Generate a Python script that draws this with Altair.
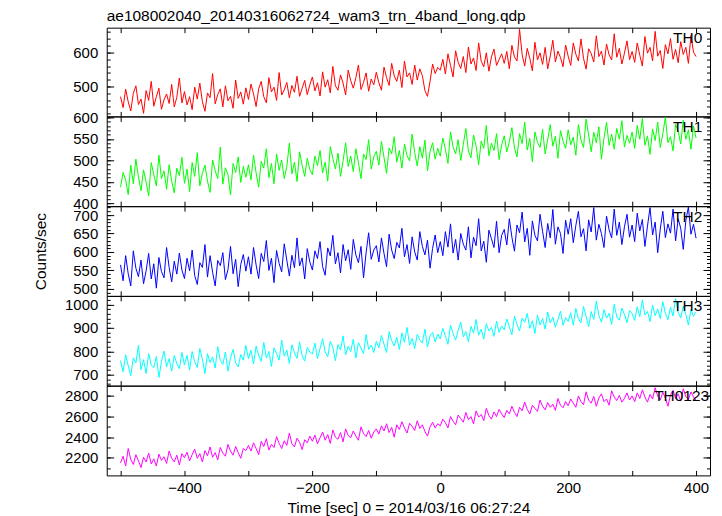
import altair as alt
import pandas as pd

TITLE = "ae108002040_20140316062724_wam3_trn_4band_long.qdp"
X_TITLE = "Time [sec] 0 = 2014/03/16 06:27:24"
Y_TITLE = "Counts/sec"
TIME = list(range(-500, 401, 4))
X_DOMAIN = [-521.6, 421.8]
X_TICKS = list(range(-500, 401, 100))

TH0 = [470, 438, 492, 455, 428, 480, 502, 447, 463, 421, 488, 459, 515, 442, 470, 495, 433, 461, 478, 450, 506, 440, 468, 525, 452,
       485, 446, 470, 432, 498, 463, 510, 455, 427, 481, 467, 538, 449, 476, 493, 440, 502, 458, 471, 436, 519, 465, 484, 448, 496,
       462, 507, 478, 441, 493, 515, 470, 452, 526, 484, 498, 459, 541, 475, 490, 512, 467, 503, 483, 530, 471, 495, 518, 476, 505,
       528, 487, 511, 472, 543, 498, 520, 481, 559, 502, 489, 534, 510, 475, 548, 517, 495, 526, 563, 491, 512, 540, 486, 522, 505,
       542, 511, 489, 557, 526, 503, 568, 531, 515, 548, 497, 575, 528, 540, 506, 563, 519, 552, 532, 488, 471, 515, 566, 538, 556,
       548, 580, 537, 596, 562, 528, 605, 571, 553, 588, 541, 616, 566, 584, 547, 628, 574, 558, 599, 545, 587, 610, 562, 579, 596,
       568, 603, 552, 621, 587, 575, 668, 594, 560, 612, 583, 546, 630, 578, 599, 565, 615, 552, 590, 636, 572, 604, 585, 558, 622,
       589, 562, 628, 595, 575, 640, 583, 551, 611, 597, 572, 649, 588, 604, 563, 625, 593, 578, 655, 586, 612, 566, 598, 634, 579,
       603, 571, 628, 592, 560, 647, 598, 615, 575, 662, 589, 606, 553, 623, 596, 641, 580, 609, 570, 632, 594, 615, 568, 650, 601,
       588]
TH1 = [438, 472, 455, 421, 489, 446, 503, 462, 430, 478, 450, 418, 495, 467, 441, 512, 458, 476, 433, 490, 452, 425, 482, 465, 507,
       447, 480, 428, 495, 463, 518, 441, 470, 489, 452, 426, 501, 476, 458, 531, 445, 483, 467, 420, 493, 472, 508, 449, 486, 461,
       490, 455, 512, 471, 438, 498, 482, 527, 460, 493, 446, 515, 477, 501, 458, 485, 540, 469, 496, 451, 520, 488, 463, 505, 479,
       467, 510, 488, 523, 471, 496, 452, 532, 505, 480, 517, 463, 499, 541, 486, 510, 474, 527, 495, 458, 515, 502, 548, 480, 508,
       521, 489, 544, 507, 470, 529, 515, 555, 496, 523, 482, 538, 511, 499, 561, 518, 487, 532, 505, 547, 476, 520, 541, 503, 528,
       510, 552, 526, 493, 566, 531, 515, 548, 500, 537, 574, 522, 506, 559, 534, 490, 545, 528, 581, 511, 540, 523, 562, 502, 536,
       557, 520, 543, 576, 529, 508, 562, 539, 589, 524, 551, 497, 566, 542, 530, 572, 515, 548, 583, 533, 556, 505, 569, 545, 528,
       571, 536, 554, 512, 583, 547, 530, 596, 559, 520, 565, 541, 578, 503, 552, 588, 535, 561, 526, 574, 549, 592, 531, 558, 540,
       566, 528, 581, 549, 597, 535, 557, 514, 573, 546, 589, 530, 562, 600, 541, 555, 522, 584, 568, 538, 593, 549, 571, 526, 580,
       552]
TH2 = [565, 522, 590, 541, 508, 603, 556, 533, 578, 514, 549, 596, 527, 568, 502, 585, 547, 530, 612, 558, 519, 575, 540, 597, 551,
       528, 583, 549, 605, 536, 512, 571, 558, 620, 532, 590, 545, 508, 577, 563, 598, 525, 552, 615, 541, 580, 506, 566, 593, 548,
       587, 540, 612, 565, 528, 596, 574, 631, 550, 583, 517, 604, 569, 546, 622, 578, 535, 591, 557, 638, 562, 584, 527, 609, 573,
       551, 603, 582, 628, 560, 537, 611, 589, 645, 568, 598, 543, 620, 576, 606, 553, 634, 592, 571, 615, 530, 598, 652, 580, 605,
       617, 573, 638, 596, 560, 648, 605, 582, 626, 611, 664, 587, 620, 569, 641, 600, 578, 655, 615, 592, 632, 556, 610, 646, 598,
       628, 590, 655, 613, 676, 597, 634, 578, 650, 621, 605, 668, 584, 640, 617, 690, 603, 629, 572, 659, 636, 612, 683, 598, 645,
       661, 619, 690, 640, 602, 673, 652, 708, 627, 664, 591, 684, 645, 630, 702, 656, 612, 677, 638, 715, 621, 668, 650, 596, 686,
       648, 690, 625, 672, 710, 641, 663, 603, 687, 654, 720, 632, 675, 650, 612, 697, 660, 638, 716, 645, 681, 620, 668, 702, 640,
       673, 628, 705, 657, 688, 615, 670, 720, 646, 681, 598, 662, 710, 639, 676, 651, 716, 630, 690, 664, 607, 685, 722, 648, 675,
       637]
TH3 = [760, 712, 785, 738, 695, 772, 750, 826, 721, 764, 705, 790, 742, 730, 778, 688, 756, 801, 733, 769, 715, 782, 748, 726, 795,
       741, 783, 720, 799, 755, 731, 812, 768, 705, 790, 752, 776, 728, 820, 761, 744, 797, 715, 772, 808, 750, 733, 786, 762, 825,
       768, 805, 746, 822, 784, 757, 838, 771, 799, 735, 815, 790, 762, 848, 779, 806, 748, 828, 793, 770, 840, 781, 758, 816, 797,
       788, 835, 769, 812, 854, 797, 776, 843, 818, 760, 829, 806, 866, 785, 821, 799, 852, 771, 837, 814, 790, 872, 808, 827, 795,
       842, 815, 868, 830, 795, 884, 846, 823, 860, 808, 879, 838, 902, 826, 855, 812, 873, 849, 835, 895, 818, 866, 881, 840, 874,
       853, 898, 865, 830, 912, 876, 848, 890, 925, 862, 884, 841, 907, 878, 936, 869, 895, 852, 918, 887, 903, 864, 929, 881, 908,
       892, 938, 905, 871, 950, 915, 887, 942, 924, 962, 898, 931, 876, 955, 913, 940, 895, 968, 921, 946, 903, 935, 972, 911, 944,
       928, 965, 912, 983, 940, 921, 992, 948, 905, 970, 936, 1015, 953, 925, 978, 942, 962, 915, 1001, 947, 933, 985, 958, 922, 975,
       961, 932, 990, 948, 1020, 955, 970, 927, 998, 952, 981, 940, 1012, 962, 935, 988, 951, 1025, 966, 943, 993, 958, 912, 979, 950,
       968]
TH0123 = [2150, 2215, 2120, 2290, 2185, 2135, 2230, 2170, 2105, 2205, 2160, 2245, 2140, 2190, 2120, 2235, 2175, 2210, 2145, 2265, 2195, 2160, 2225, 2130, 2240,
          2200, 2255, 2170, 2230, 2285, 2195, 2240, 2160, 2270, 2220, 2305, 2205, 2250, 2180, 2300, 2245, 2215, 2330, 2265, 2225, 2310, 2250, 2195, 2290, 2270,
          2320, 2265, 2345, 2290, 2230, 2360, 2310, 2385, 2275, 2330, 2300, 2405, 2340, 2290, 2365, 2320, 2440, 2335, 2305, 2390, 2350, 2280, 2375, 2345, 2410,
          2360, 2420, 2335, 2395, 2450, 2370, 2425, 2340, 2470, 2400, 2380, 2445, 2355, 2480, 2415, 2395, 2460, 2410, 2370, 2500, 2435, 2405, 2465, 2390, 2450,
          2480, 2430, 2510, 2460, 2530, 2445, 2495, 2400, 2520, 2475, 2550, 2490, 2440, 2535, 2505, 2465, 2560, 2485, 2520, 2455, 2410, 2500, 2545, 2490, 2530,
          2510, 2575, 2540, 2490, 2600, 2555, 2520, 2615, 2580, 2545, 2640, 2570, 2600, 2530, 2655, 2595, 2620, 2560, 2680, 2610, 2575, 2645, 2600, 2670, 2625,
          2590, 2660, 2625, 2700, 2640, 2600, 2690, 2655, 2740, 2670, 2625, 2710, 2680, 2650, 2760, 2700, 2665, 2735, 2690, 2720, 2660, 2775, 2710, 2685, 2745,
          2705, 2770, 2730, 2690, 2800, 2745, 2715, 2840, 2760, 2730, 2795, 2700, 2780, 2820, 2745, 2770, 2710, 2850, 2790, 2755, 2805, 2740, 2775, 2830, 2760,
          2800, 2745, 2830, 2775, 2860, 2790, 2740, 2815, 2770, 2880, 2800, 2760, 2835, 2780, 2700, 2810, 2855, 2775, 2820, 2750, 2870, 2795, 2765, 2840, 2790,
          2760]

BANDS = ["TH0", "TH1", "TH2", "TH3", "TH0123"]
SERIES = [TH0, TH1, TH2, TH3, TH0123]
COLORS = ["#ff0000", "#00ff00", "#0000ff", "#00ffff", "#ff00ff"]
Y_DOMAINS = [[412, 673], [394, 602], [481, 724], [653, 1037], [2029, 2900]]
Y_MAJOR = [[500, 600], [400, 450, 500, 550, 600], [500, 550, 600, 650, 700],
           [700, 800, 900, 1000], [2200, 2400, 2600, 2800]]
Y_MINOR = [list(range(420, 661, 20)), list(range(400, 601, 10)), list(range(490, 721, 10)),
           list(range(660, 1021, 20)), list(range(2100, 2901, 100))]
LABEL_X = [568, 568, 568, 568, 549]
HEIGHTS = [89, 90, 90, 90, 90]

FONT = "Liberation Sans"
W = 605


def panel(i):
    df = pd.DataFrame({"t": TIME, "v": SERIES[i]})
    xs = alt.Scale(domain=X_DOMAIN, nice=False, zero=False)
    ys = alt.Scale(domain=Y_DOMAINS[i], nice=False, zero=False)
    last = i == len(BANDS) - 1

    xb = dict(orient="bottom", values=X_TICKS, tickSize=5, offset=-5, domain=False, grid=False,
              tickColor="black", labels=last, title=None, zindex=1)
    if last:
        xb.update(labelExpr="datum.value % 200 == 0 ? datum.label : ''", labelFont=FONT,
                  labelFontSize=15, labelPadding=5, labelColor="black", title=X_TITLE,
                  titleFont=FONT, titleFontSize=15.5, titleFontWeight="normal",
                  titleColor="black", titlePadding=5, format="d")
    yl = dict(orient="left", values=Y_MAJOR[i], tickSize=7, offset=-7, domain=False, grid=False,
              tickColor="black", labelFont=FONT, labelFontSize=15, labelColor="black",
              labelPadding=9, title=None, zindex=1, format="d")
    if i == 2:
        yl.update(title=Y_TITLE, titleFont=FONT, titleFontSize=15.5, titleFontWeight="normal",
                  titleColor="black", titlePadding=24)

    base = alt.Chart(df)
    line = base.mark_line(color=COLORS[i], strokeWidth=1, clip=True).encode(
        x=alt.X("t:Q", scale=xs, axis=alt.Axis(**xb)),
        y=alt.Y("v:Q", scale=ys, axis=alt.Axis(**yl)),
    )
    inv = base.mark_line(strokeOpacity=0)
    l2 = inv.encode(
        x=alt.X("t:Q", scale=xs, axis=alt.Axis(orient="top", values=X_TICKS, tickSize=5, offset=-5,
                                               domain=False, grid=False, labels=False, title=None,
                                               tickColor="black", zindex=1)),
        y=alt.Y("v:Q", scale=ys, axis=alt.Axis(orient="left", values=Y_MINOR[i], tickSize=3.5,
                                               offset=-3.5, domain=False, grid=False, labels=False,
                                               title=None, tickColor="black", zindex=1)),
    )
    l3 = inv.encode(
        x=alt.X("t:Q", scale=xs, axis=None),
        y=alt.Y("v:Q", scale=ys, axis=alt.Axis(orient="right", values=Y_MAJOR[i], tickSize=7,
                                               offset=-7, domain=False, grid=False, labels=False,
                                               title=None, tickColor="black", zindex=1)),
    )
    l4 = inv.encode(
        x=alt.X("t:Q", scale=xs, axis=None),
        y=alt.Y("v:Q", scale=ys, axis=alt.Axis(orient="right", values=Y_MINOR[i], tickSize=3.5,
                                               offset=-3.5, domain=False, grid=False, labels=False,
                                               title=None, tickColor="black", zindex=1)),
    )
    lab = alt.Chart(pd.DataFrame({"band": [BANDS[i]]})).mark_text(
        align="left", baseline="alphabetic", font=FONT, fontSize=15.5, color="black"
    ).encode(text="band:N", x=alt.value(LABEL_X[i]), y=alt.value(15.5))

    return alt.layer(line, l2, l3, l4, lab).resolve_axis(
        x="independent", y="independent"
    ).properties(width=W, height=HEIGHTS[i])


chart = alt.vconcat(*[panel(i) for i in range(len(BANDS))], spacing=0, bounds="flush").properties(
    title=alt.TitleParams(TITLE, anchor="start", frame="group", font=FONT, fontSize=15.5,
                          fontWeight="normal", color="black", offset=2),
    padding={"left": 25, "top": 0, "right": 3, "bottom": 0},
).configure(background="white", view=alt.ViewConfig(stroke="black", strokeWidth=1))

chart.save("out.html", embed_options={"renderer": "svg", "actions": False})
